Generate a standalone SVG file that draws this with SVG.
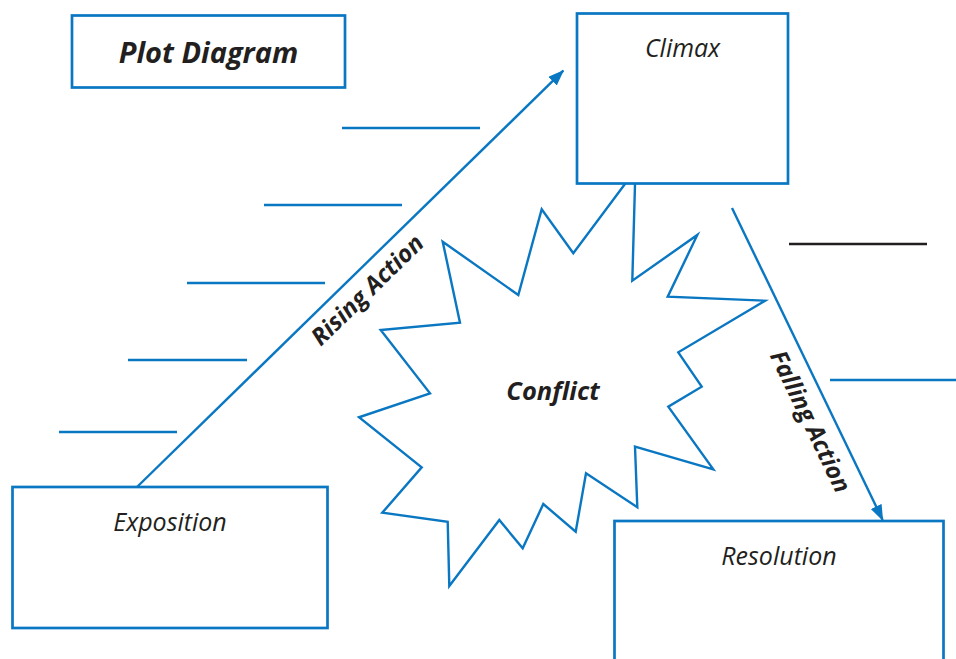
<svg xmlns="http://www.w3.org/2000/svg" width="956" height="659" viewBox="0 0 956 659">
<style>
.box{fill:#fff;stroke:#0a77c2;stroke-width:2.7}
.ln{stroke:#0a77c2;stroke-width:2.4;fill:none}
.lbl{font-family:"Open Sans","Noto Sans",sans-serif;font-style:italic;font-size:25px;fill:#231f20;text-anchor:middle}
.bold{font-weight:bold}
</style>
<defs>
<marker id="ah" markerUnits="userSpaceOnUse" markerWidth="16" markerHeight="12" refX="15" refY="6" orient="auto">
<path d="M0,0 L16,6 L0,12 Z" fill="#0a77c2"/>
</marker>
</defs>
<rect width="956" height="659" fill="#fff"/>
<g id="conflict">
<polygon class="ln" style="fill:#fff" points="442.7,241.7 518.3,295 541.7,209.3 573.3,253.3 635.4,170 632.3,280.7 697.3,235 667.7,296.7 765,300.7 678.3,352.3 701.7,386.7 668.3,406.7 713.3,469.3 635,446.7 637.3,507.3 586,473.3 575.7,531.7 543.3,504 522.7,548.3 499.3,520 449.3,586 447.7,521.7 382.3,512.7 421.7,467.3 359,417.3 430,393.3 380.7,330 460,322.7"/>
<text class="lbl bold" x="553" y="400" style="font-size:25.5px">Conflict</text>
</g>
<g id="title">
<rect class="box" x="72" y="15.5" width="273" height="72"/>
<text class="lbl bold" x="208.5" y="63" style="font-size:29px">Plot Diagram</text>
</g>
<g id="climax">
<rect class="box" x="577" y="13.5" width="211" height="170"/>
<text class="lbl" x="682.5" y="57">Climax</text>
</g>
<g id="exposition">
<rect class="box" x="12.5" y="487" width="315" height="141"/>
<text class="lbl" x="170" y="531">Exposition</text>
</g>
<g id="resolution">
<rect class="box" x="614.5" y="521" width="329" height="150"/>
<text class="lbl" x="779" y="565">Resolution</text>
</g>
<g id="connectors">
<line class="ln" x1="137" y1="487" x2="563.3" y2="70.7" marker-end="url(#ah)"/>
<line class="ln" x1="732" y1="208" x2="882.7" y2="520" marker-end="url(#ah)"/>
<text class="lbl bold" transform="translate(373,296) rotate(-44.3)" x="0" y="0" style="font-size:24px">Rising Action</text>
<text class="lbl bold" transform="translate(803,425) rotate(64.3)" x="0" y="0" style="font-size:24px">Falling Action</text>
</g>
<g id="writing-lines">
<line class="ln" x1="342" y1="128" x2="480" y2="128"/>
<line class="ln" x1="264" y1="205" x2="402" y2="205"/>
<line class="ln" x1="187" y1="283" x2="325" y2="283"/>
<line class="ln" x1="128" y1="360" x2="247" y2="360"/>
<line class="ln" x1="59" y1="432" x2="177" y2="432"/>
<line class="ln" x1="789" y1="244" x2="927" y2="244" style="stroke:#231f20"/>
<line class="ln" x1="830" y1="380" x2="956" y2="380"/>
</g>
</svg>
